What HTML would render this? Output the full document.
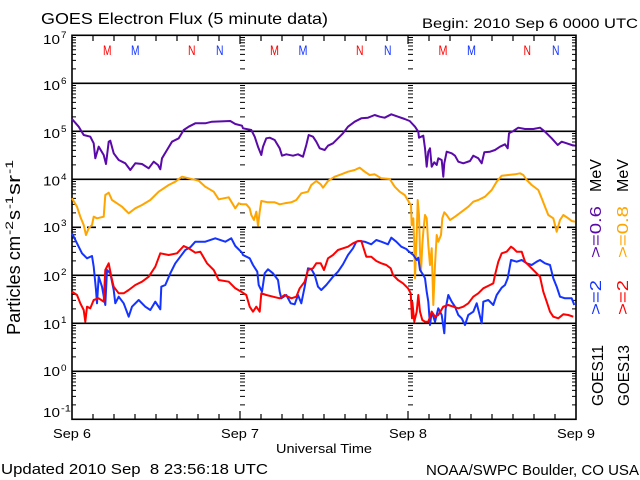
<!DOCTYPE html>
<html>
<head>
<meta charset="utf-8">
<style>
  html,body{margin:0;padding:0;background:#fff;}
  svg{display:block;}
  text{font-family:"Liberation Sans",sans-serif;}
</style>
</head>
<body>
<svg width="640" height="480" viewBox="0 0 640 480" xmlns="http://www.w3.org/2000/svg">
  <rect width="640" height="480" fill="#fff"/>
  <defs>
    <path id="mt" stroke="#000" stroke-width="1" fill="none" d="
M0 404.85h1 M0 396.4h1 M0 390.4h1 M0 385.75h1 M0 381.95h1 M0 378.74h1 M0 375.95h1 M0 373.5h1
M0 356.85h1 M0 348.4h1 M0 342.4h1 M0 337.75h1 M0 333.95h1 M0 330.74h1 M0 327.95h1 M0 325.5h1
M0 308.85h1 M0 300.4h1 M0 294.4h1 M0 289.75h1 M0 285.95h1 M0 282.74h1 M0 279.95h1 M0 277.5h1
M0 260.85h1 M0 252.4h1 M0 246.4h1 M0 241.75h1 M0 237.95h1 M0 234.74h1 M0 231.95h1 M0 229.5h1
M0 212.85h1 M0 204.4h1 M0 198.4h1 M0 193.75h1 M0 189.95h1 M0 186.74h1 M0 183.95h1 M0 181.5h1
M0 164.85h1 M0 156.4h1 M0 150.4h1 M0 145.75h1 M0 141.95h1 M0 138.74h1 M0 135.95h1 M0 133.5h1
M0 116.85h1 M0 108.4h1 M0 102.4h1 M0 97.75h1 M0 93.95h1 M0 90.74h1 M0 87.95h1 M0 85.5h1
M0 68.85h1 M0 60.4h1 M0 54.4h1 M0 49.75h1 M0 45.95h1 M0 42.74h1 M0 39.95h1 M0 37.5h1"/>
  </defs>

  <!-- minor ticks: left, right, day boundaries -->
  <use href="#mt" transform="translate(72,0) scale(4,1)"/>
  <use href="#mt" transform="translate(576,0) scale(-4,1)"/>
  <use href="#mt" transform="translate(240,0) scale(5,1)"/>
  <use href="#mt" transform="translate(408,0) scale(5,1)"/>

  <!-- gridlines -->
  <g stroke="#000" stroke-width="1.6" fill="none">
    <path d="M72 83.3H576 M72 131.3H576 M72 179.3H576 M72 275.3H576 M72 323.3H576 M72 371.3H576"/>
    <path d="M72 227.3H576" stroke-dasharray="9,6"/>
  </g>

  <!-- frame -->
  <rect x="72" y="35.3" width="504" height="384" fill="none" stroke="#000" stroke-width="1.6"/>

  <!-- x ticks -->
  <g stroke="#000" stroke-width="1.2" fill="none">
    <path d="M93 419v-5 M114 419v-5 M135 419v-5 M156 419v-5 M177 419v-5 M198 419v-5 M219 419v-5 M240 419v-8 M261 419v-5 M282 419v-5 M303 419v-5 M324 419v-5 M345 419v-5 M366 419v-5 M387 419v-5 M408 419v-8 M429 419v-5 M450 419v-5 M471 419v-5 M492 419v-5 M513 419v-5 M534 419v-5 M555 419v-5"/>
    <path d="M93 36v5 M114 36v5 M135 36v5 M156 36v5 M177 36v5 M198 36v5 M219 36v5 M240 36v8 M261 36v5 M282 36v5 M303 36v5 M324 36v5 M345 36v5 M366 36v5 M387 36v5 M408 36v8 M429 36v5 M450 36v5 M471 36v5 M492 36v5 M513 36v5 M534 36v5 M555 36v5"/>
  </g>

  <!-- series -->
  <g fill="none" stroke-width="2" stroke-linejoin="round">
    <polyline stroke="#ffa500" points="72,198.3 77,206.7 80.3,216.7 83.7,225 86,235 88.7,228.3 92,225 93.7,216.7 97,218.3 103.7,216.7 105.3,195 108.7,192.7 112,200 117,203.3 122,206.7 125.3,210 128.7,213.3 135.3,208.3 142,205 150.3,200 158.7,191.7 168.7,185 175.3,181.7 182,176.7 188.7,178.3 198.7,180.7 205.3,186.7 213.7,191.7 218.7,199.3 228.7,197.3 235.3,208.3 238.7,203.3 242,204.3 246.3,204.3 249.7,208.3 251.3,215 254,220 256.3,211.7 258,225.7 259.7,211.7 261.3,201 268,202.3 274.7,202.3 279.7,204.3 284.7,203.3 291.3,202.3 296.3,200 301.3,193.3 308,191.7 311.3,185 316.3,181 320.7,184.3 323,187.7 328,181 334.7,176.7 341.3,174.3 348,171.7 354.7,170 359.7,167.7 364.7,171.7 369.7,175 374.7,174.3 381.3,178.3 389.7,179 394.7,186.7 399.7,191.7 404.7,195 409.7,203.3 411,205 411.7,225 413.3,218.3 414.3,245 415,278.3 416.7,235 417.7,200 419,215 420,251.7 421,271.7 422.3,245 423.3,231.7 425,215 426.7,218.3 428.3,245 430,265 431.7,248.3 433.3,305 435,265 436.7,235 438.3,241.7 441,235 442.3,218.3 444.3,212.3 446.7,215 450,220 455,216.7 461.7,211.7 468.3,206.7 473.3,201.7 478.3,200 485,196.7 491.7,190 496.7,181.7 501.7,175.7 508.3,175 515,174.3 520,173.3 523.3,175 526.7,180 531.7,185 538.3,190 541.7,198.3 545,206.7 548.3,215 553.3,218.3 556.7,231.7 560,220 563.3,215 568.3,218.3 571.7,221 575,221.7"/>
    <polyline stroke="#5a0aa8" points="72,119 78.7,126.7 83.7,135 90.3,136.7 93.7,143.3 95.3,158.3 98.7,146.7 103.7,155 106,164 108.7,141.7 110.3,140.7 113.7,153.3 118.7,160 125.3,163.3 130.3,170 135.3,163.3 142,164 148.7,168.3 153.7,161.7 158,165 160.3,169.3 162,158.3 167,150 172,141.7 178.7,138.3 183.7,130 188.7,126.7 195.3,123.3 205.3,123.3 212,121.7 230.3,121 235.3,124 242,125.7 243,128.3 251.3,130 254.7,136.7 258,146.7 261.3,155 263,146.7 266.3,138.3 269.7,137.7 274.7,140 279.7,148.3 282,155.7 286.3,154.3 293,155.7 298,154.3 303,156.7 306.3,145 308.7,135 313,136.7 316.3,141.7 319.7,148.3 324.7,150 328,145.7 333,143.3 338,138.3 343,133.3 348,126.7 354.7,121.7 361.3,118.3 368,117.7 374.7,115 379.7,116.7 384.7,117.7 391.3,114.3 398,116.7 404.7,119 409.7,121 415,126.7 418.3,131.7 419,137.7 423.3,135.7 425,148.3 426.7,166.7 428.3,151.7 430,148.3 431.7,166.7 434.3,162.3 436.7,165 438.3,158.3 441.7,160 443.3,176.7 444.3,163.3 446.7,151.7 451.7,153.3 455,155.7 458.3,161.7 463.3,163.3 470,161 473.3,155.7 478.3,158.3 481.7,163.3 484.3,152.3 490,151.7 495,150 500,146.7 505,144.3 507.7,148.3 509,133.3 513.3,131 518.3,127.7 525,129 533.3,129 540,127.7 545,131.7 551.7,138.3 557.7,145 561.7,141.7 566.7,143.3 571.7,145 575,145.7"/>
    <polyline stroke="#1433ff" points="72,233.3 77,243.3 82,253.3 87,258.3 92,256 93.7,266.7 96,290 97,303.3 98.7,276.7 102,286.7 105.3,305 107,270 110.3,273.3 113.7,290 115.3,303.3 118.7,296.7 123.7,303.3 128.7,316.7 132,306.7 138.7,300 145.3,306.7 150.3,310 155.3,301.7 160.3,309.3 161.3,286.7 165.3,285 170.3,273.3 175.3,263.3 180.3,256.7 185.3,250 190.3,247.3 195.3,241.7 205.3,241.7 215.3,238.3 225.3,241.7 231.3,238.3 235.3,246 242,252.7 243,255 249.7,258.3 253,265 257.3,271.7 258.7,285 262,291.7 264.7,273.3 268,269.3 273,273.3 278,280 279.7,291.7 281.3,298.3 286.3,295 290.7,303.3 294.7,304.3 298,295 301.3,303.3 304.7,286.7 308,268.3 311.3,269 314.7,275 318,286.7 321.3,290 326.3,285 333,276.7 338,271.7 343,264.3 348,255 353,248.3 356.3,241.7 359.7,241 364.7,241.7 371.3,244.3 376.3,240 381.3,241.7 388,244.3 391.3,237.7 396.3,241.7 401.3,246.7 406.3,249 408.3,251 413.3,255 416.7,260 418.3,257.7 420,270 423.3,275 425,278.3 426.7,291.7 428.3,301.7 430,325 431.7,311.7 435,321.7 438.3,308.3 441.7,315 444.3,333.3 445.7,308.3 448.3,295 451.7,301.7 455,306.7 458.3,315 461.7,318.3 465,325 468.3,315 473.3,311.7 476.7,303.3 481.7,323.3 483.3,301.7 488.3,300 493.3,305 496.7,295 501.7,287.7 505,285 507.7,278.3 511,260 516.7,261.7 521.7,260 526.7,263.3 531.7,265 536.7,261.7 540,260 545,263.3 550,265 553.3,278.3 556.7,286.7 560,296.7 565,298.3 571.7,298.3 574.3,305"/>
    <polyline stroke="#ff0000" points="72,291.7 77,295 80.3,303.3 83.7,310 85.3,321.7 87,306.7 90.3,308.3 93.7,300 98.7,298.3 103.7,301.7 105.3,270 108.7,263.3 111.3,276.7 113.7,286.7 118.7,293.3 123.7,293.3 128.7,290 135.3,285 142,281.7 148.7,276.7 155.3,266.7 160.3,253.3 168.7,255 177,253.3 183.7,246 188.7,248.3 195.3,252.7 200.3,251.7 207,263.3 213.7,270 218.7,280 228.7,281.7 235.3,288.3 241.3,291.7 246.3,295 249.7,306.7 253,311.7 256.3,306.7 259.7,311.7 261.3,293.3 266.3,295 273,296.7 279.7,298.3 284.7,295 291.3,298.3 296.3,296.7 299.7,288.3 304.7,281.7 308,270 313,268.3 316.3,263.3 320.7,263.3 324,270 328,258.3 333,255 338,250 343,248.3 348,246.7 353,243.3 358,241 361.3,241 366.3,256.7 371.3,256.7 376.3,261 381.3,263.3 386.3,265 390.7,268.3 393,275 398,280 403,283.3 408,288.3 410.7,293.3 412,318.3 412.3,301.7 414.3,321.7 416.7,311.7 418.3,295 420,311.7 422.3,320 425,321.7 428.3,321.7 431.7,311.7 435,316.7 438.3,315 443.3,306.7 448.3,305 453.3,306.7 458.3,308.3 463.3,306.7 468.3,303.3 473.3,296.7 478.3,293.3 483.3,288.3 490,285 493.3,283.3 495,275 498.3,261.7 501.7,253.3 506.7,251.7 511,246.7 513.3,248.3 516.7,251.7 521.7,251.7 525,261.7 530,266.7 535,271.7 540,276.7 543.3,291.7 546.7,301.7 550,311.7 553.3,316.7 558.3,318.3 563.3,314.3 568.3,315 573.3,316.7"/>
  </g>

  <!-- titles -->
  <text x="41" y="24" font-size="16" textLength="287" lengthAdjust="spacingAndGlyphs">GOES Electron Flux (5 minute data)</text>
  <text x="422" y="28" font-size="14" textLength="216" lengthAdjust="spacingAndGlyphs">Begin: 2010 Sep 6 0000 UTC</text>

  <!-- M / N markers -->
  <g font-size="14">
    <text x="103" y="55" fill="#ff0000" textLength="8.5" lengthAdjust="spacingAndGlyphs">M</text>
    <text x="131" y="55" fill="#1433ff" textLength="8.5" lengthAdjust="spacingAndGlyphs">M</text>
    <text x="188" y="55" fill="#ff0000" textLength="7.5" lengthAdjust="spacingAndGlyphs">N</text>
    <text x="216" y="55" fill="#1433ff" textLength="7.5" lengthAdjust="spacingAndGlyphs">N</text>
    <text x="270" y="55" fill="#ff0000" textLength="9" lengthAdjust="spacingAndGlyphs">M</text>
    <text x="298.5" y="55" fill="#1433ff" textLength="9" lengthAdjust="spacingAndGlyphs">M</text>
    <text x="356" y="55" fill="#ff0000" textLength="7.5" lengthAdjust="spacingAndGlyphs">N</text>
    <text x="384" y="55" fill="#1433ff" textLength="7.5" lengthAdjust="spacingAndGlyphs">N</text>
    <text x="438.5" y="55" fill="#ff0000" textLength="9" lengthAdjust="spacingAndGlyphs">M</text>
    <text x="467" y="55" fill="#1433ff" textLength="9" lengthAdjust="spacingAndGlyphs">M</text>
    <text x="523.5" y="55" fill="#ff0000" textLength="7.5" lengthAdjust="spacingAndGlyphs">N</text>
    <text x="552" y="55" fill="#1433ff" textLength="7.5" lengthAdjust="spacingAndGlyphs">N</text>
  </g>

  <!-- y tick labels -->
  <g font-size="13">
    <text x="43" y="44" textLength="17" lengthAdjust="spacingAndGlyphs">10</text>
    <text x="43" y="90" textLength="17" lengthAdjust="spacingAndGlyphs">10</text>
    <text x="43" y="138" textLength="17" lengthAdjust="spacingAndGlyphs">10</text>
    <text x="43" y="185.5" textLength="17" lengthAdjust="spacingAndGlyphs">10</text>
    <text x="43" y="232" textLength="17" lengthAdjust="spacingAndGlyphs">10</text>
    <text x="43" y="281" textLength="17" lengthAdjust="spacingAndGlyphs">10</text>
    <text x="43" y="329" textLength="17" lengthAdjust="spacingAndGlyphs">10</text>
    <text x="43" y="376" textLength="17" lengthAdjust="spacingAndGlyphs">10</text>
    <text x="43" y="417" textLength="17" lengthAdjust="spacingAndGlyphs">10</text>
  </g>
  <g font-size="9">
    <text x="61" y="38" textLength="5.5" lengthAdjust="spacingAndGlyphs">7</text>
    <text x="61" y="84" textLength="5.5" lengthAdjust="spacingAndGlyphs">6</text>
    <text x="61" y="132" textLength="5.5" lengthAdjust="spacingAndGlyphs">5</text>
    <text x="61" y="180" textLength="5.5" lengthAdjust="spacingAndGlyphs">4</text>
    <text x="61" y="226" textLength="5.5" lengthAdjust="spacingAndGlyphs">3</text>
    <text x="61" y="275" textLength="5.5" lengthAdjust="spacingAndGlyphs">2</text>
    <text x="61" y="323" textLength="5.5" lengthAdjust="spacingAndGlyphs">1</text>
    <text x="61" y="371" textLength="5.5" lengthAdjust="spacingAndGlyphs">0</text>
    <text x="61" y="411.5" textLength="10" lengthAdjust="spacingAndGlyphs">-1</text>
  </g>

  <!-- y axis title (rotated) -->
  <g transform="rotate(-90)">
    <text x="-335" y="20" font-size="18" textLength="99" lengthAdjust="spacingAndGlyphs">Particles cm</text>
    <text x="-235" y="13" font-size="11" textLength="14" lengthAdjust="spacingAndGlyphs">-2</text>
    <text x="-220" y="20" font-size="18" textLength="10" lengthAdjust="spacingAndGlyphs">s</text>
    <text x="-209" y="13" font-size="11" textLength="13" lengthAdjust="spacingAndGlyphs">-1</text>
    <text x="-195" y="20" font-size="18" textLength="20" lengthAdjust="spacingAndGlyphs">sr</text>
    <text x="-174" y="13" font-size="11" textLength="14" lengthAdjust="spacingAndGlyphs">-1</text>
  </g>

  <!-- right labels (rotated) -->
  <g transform="rotate(-90)" font-size="16">
    <text x="-315" y="601" fill="#1433ff" textLength="35" lengthAdjust="spacingAndGlyphs">&gt;=2</text>
    <text x="-258" y="601" fill="#5a0aa8" textLength="52" lengthAdjust="spacingAndGlyphs">&gt;=0.6</text>
    <text x="-192" y="601" fill="#000" textLength="33" lengthAdjust="spacingAndGlyphs">MeV</text>
    <text x="-315" y="628" fill="#ff0000" textLength="35" lengthAdjust="spacingAndGlyphs">&gt;=2</text>
    <text x="-258" y="628" fill="#ffa500" textLength="52" lengthAdjust="spacingAndGlyphs">&gt;=0.8</text>
    <text x="-192" y="628" fill="#000" textLength="33" lengthAdjust="spacingAndGlyphs">MeV</text>
    <text x="-406" y="603" fill="#000" textLength="61" lengthAdjust="spacingAndGlyphs">GOES11</text>
    <text x="-406" y="629" fill="#000" textLength="61" lengthAdjust="spacingAndGlyphs">GOES13</text>
  </g>

  <!-- x labels -->
  <g font-size="13" text-anchor="middle">
    <text x="72" y="438" textLength="38" lengthAdjust="spacingAndGlyphs">Sep 6</text>
    <text x="240" y="438" textLength="38" lengthAdjust="spacingAndGlyphs">Sep 7</text>
    <text x="408" y="438" textLength="38" lengthAdjust="spacingAndGlyphs">Sep 8</text>
    <text x="576" y="438" textLength="38" lengthAdjust="spacingAndGlyphs">Sep 9</text>
  </g>
  <text x="276" y="453" font-size="12.5" textLength="96" lengthAdjust="spacingAndGlyphs">Universal Time</text>

  <!-- footer -->
  <text x="1" y="474" font-size="15" textLength="267" lengthAdjust="spacingAndGlyphs" xml:space="preserve">Updated 2010 Sep  8 23:56:18 UTC</text>
  <text x="426" y="475" font-size="15" textLength="213" lengthAdjust="spacingAndGlyphs">NOAA/SWPC Boulder, CO USA</text>
</svg>
</body>
</html>
